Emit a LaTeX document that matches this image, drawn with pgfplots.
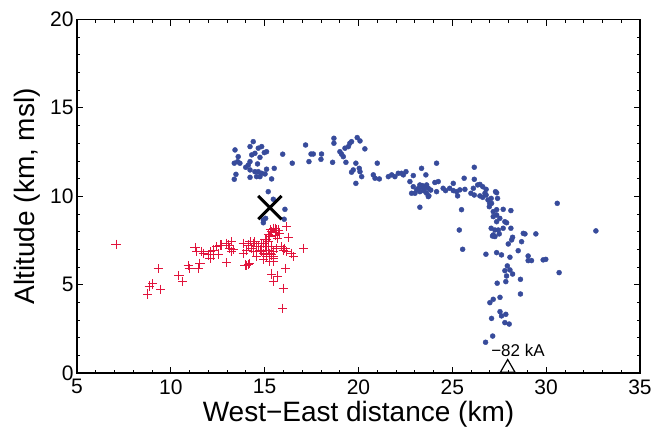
\documentclass[border=0pt]{standalone}
\usepackage{pgfplots}
\pgfplotsset{compat=1.18}
\usepackage{fontspec}
\setmainfont{Liberation Sans}
\definecolor{dotblue}{RGB}{55,75,155}
\definecolor{plusred}{RGB}{225,20,60}
\begin{document}
\begin{tikzpicture}
\path[use as bounding box] (-77pt,-59pt) rectangle (588pt,373pt);
\begin{axis}[
  scale only axis, width=563pt, height=353.5pt,
  xmin=5, xmax=35, ymin=0, ymax=20,
  xtick={5,10,...,35}, ytick={0,5,...,20},
  minor x tick num=4, minor y tick num=4,
  tick align=inside,
  major tick length=6pt, minor tick length=3pt,
  axis line style={line width=1.1pt},
  every tick/.style={black, line width=0.8pt},
  /pgf/number format/assume math mode=true,
  tick label style={font=\fontsize{21}{24}\selectfont},
  xticklabel style={yshift=-3pt},
  xlabel={West−East distance (km)},
  ylabel={Altitude (km, msl)},
  label style={font=\fontsize{28}{32}\selectfont},
  xlabel style={at={(axis description cs:0.5,-0.1358)}, anchor=base, inner sep=0pt},
  ylabel style={at={(axis description cs:-0.0746,0.5)}, anchor=base, inner sep=0pt},
  clip=false,
]
\addplot[only marks, color=dotblue, mark=*, mark size=2.5pt, mark options={draw=dotblue, fill=dotblue}] coordinates {
(13.42,12.62)(13.59,12.24)(13.38,11.87)(13.56,11.96)(13.68,11.87)(13.47,11.24)(13.38,10.96)
(14.22,12.81)(14.39,13.09)(14.31,12.34)(14.48,12.43)(14.66,12.72)(14.84,12.81)(14.98,12.47)
(15.10,12.52)(14.75,12.20)(14.22,11.96)(14.13,11.77)(14.62,11.83)(13.99,11.64)(14.22,11.49)
(14.48,11.39)(14.66,11.39)(14.84,11.30)(15.02,11.26)(15.10,11.53)(15.51,11.58)(15.37,10.98)
(14.57,11.11)(14.22,11.07)(14.75,11.11)(15.96,12.38)(16.47,11.87)(17.18,12.90)(17.47,12.39)
(17.59,12.39)(18.03,12.39)(18.00,12.09)(17.36,11.96)(15.19,10.26)(15.46,9.83)(16.08,9.26)
(16.04,8.70)(14.93,8.66)(15.05,8.75)(14.93,8.50)
(18.69,13.28)(18.69,13.00)(18.62,11.92)(19.01,12.52)(19.10,12.38)(19.19,12.24)(19.28,12.72)
(19.46,12.81)(19.54,13.00)(19.63,13.09)(19.93,13.32)(20.08,13.13)(20.34,12.68)(19.33,11.92)
(19.86,11.87)(19.72,11.49)(19.63,11.36)(20.04,11.58)(20.08,11.39)(20.17,11.11)(19.86,10.73)
(21.00,11.87)(20.79,11.21)(20.88,11.02)(21.11,10.98)(21.59,11.11)(21.77,11.21)(21.94,11.11)
(22.12,11.30)(22.29,11.30)(22.39,11.21)(22.53,11.39)(22.92,11.17)(23.36,11.58)(23.59,11.21)
(22.74,10.83)(22.92,10.54)(23.10,10.36)(23.27,10.64)(23.27,10.26)(23.45,10.45)(23.63,10.54)
(22.83,10.17)(23.01,10.17)(23.63,10.17)(23.72,9.98)(23.20,10.45)(23.50,10.30)(23.40,10.60)(23.85,10.35)
(24.16,11.87)(26.17,11.64)(25.63,11.02)(26.17,10.96)(24.07,10.78)(24.25,10.83)(25.05,10.73)
(23.63,10.64)(23.72,10.45)(24.16,10.26)(24.51,10.45)(24.64,10.32)(24.86,10.45)(25.05,10.32)
(25.23,10.26)(25.40,10.36)(25.67,10.39)(25.28,10.02)(23.75,10.02)(25.99,10.17)(26.17,10.07)
(26.35,10.64)(26.62,10.54)(26.80,10.39)(26.47,10.02)(26.62,9.94)(26.80,10.07)(26.90,9.79)
(27.07,9.88)(27.30,10.26)(27.41,9.88)(26.99,9.60)(25.49,9.24)(27.18,9.13)(27.36,9.24)
(27.71,9.26)(28.12,9.19)(27.18,8.85)(27.36,8.94)(27.53,8.75)(27.36,8.56)(27.80,8.56)
(27.07,8.19)(27.27,8.09)(27.45,8.09)(27.71,8.19)(27.18,7.81)(28.12,8.19)(28.78,7.90)
(25.37,8.09)(26.12,10.45)(26.47,10.67)(26.74,10.17)(27.36,10.20)(27.09,9.60)(26.97,9.41)
(27.89,8.50)(27.14,7.75)(27.27,7.72)(27.50,7.87)
(32.65,8.04)(28.87,7.87)(29.45,7.87)(28.21,7.68)(28.16,7.53)(28.69,7.43)(27.98,7.30)
(28.51,6.92)(26.79,6.72)(27.36,6.81)(27.62,6.68)(28.07,6.55)(29.04,6.62)(29.04,6.36)
(29.22,6.36)(29.84,6.40)(29.98,6.43)(27.93,6.06)(28.07,5.83)(27.80,5.79)(28.21,5.60)
(27.89,5.49)(30.69,5.68)(28.63,5.30)(27.39,5.08)(27.85,5.17)(28.63,4.47)(27.54,4.28)
(27.18,4.17)(27.00,3.98)(27.54,3.47)(27.85,3.32)(27.62,3.23)(27.09,3.09)(27.80,2.85)
(28.03,2.77)(27.15,2.09)(26.77,1.74)(30.59,9.60)(25.55,7.00)(23.27,9.38)
};
\addplot[only marks, color=plusred, mark=+, mark size=4.6pt, mark options={draw=plusred, line width=0.9pt}] coordinates {
(7.08,7.28)(9.33,5.89)(8.85,4.92)(9.03,5.04)(9.46,4.74)(8.75,4.47)(10.43,5.51)(10.63,5.17)
(10.93,6.06)(10.98,5.92)(11.46,5.89)(11.55,6.21)(11.29,7.09)(11.38,6.87)(11.64,6.87)(11.99,6.68)
(12.09,6.49)(12.26,6.96)(12.44,7.15)(12.62,7.24)(12.53,6.73)(12.97,6.24)(13.06,7.24)(13.24,7.43)
(13.33,7.00)(13.24,6.87)(13.86,6.77)(14.04,6.06)(14.18,6.21)(14.13,7.24)(14.39,7.34)(14.57,7.15)
(14.39,6.87)(14.75,6.96)(14.93,7.34)(15.10,7.53)(15.28,7.72)(15.46,8.19)(15.64,8.09)(15.37,8.00)
(15.81,7.90)(16.17,8.28)(16.25,7.68)(15.10,6.96)(15.28,6.77)(15.46,6.58)(15.10,6.58)(14.93,6.77)
(15.46,6.30)(15.28,6.30)(15.90,7.15)(16.08,7.06)(16.17,6.87)(16.43,6.77)(16.52,6.58)(17.09,7.06)
(16.13,5.92)(15.37,5.60)(15.67,5.49)(15.46,5.17)(15.99,4.79)(15.96,3.66)(13.86,7.34)(12.94,7.34)
(15.55,8.19)(15.72,8.09)(15.55,7.81)(15.02,7.53)(15.19,7.43)(14.84,7.34)(14.66,7.15)(15.02,7.15)
(15.37,7.15)(15.19,6.96)(15.46,6.90)(14.84,6.87)(15.10,6.68)(15.37,6.68)(15.64,7.06)(15.99,6.96)
(14.48,7.43)(14.22,7.43)(14.31,7.06)(14.04,6.96)(13.95,6.11)(14.13,6.15)(13.15,7.06)(12.71,7.24)
(12.09,6.87)(12.26,6.68)(11.73,6.77)(15.46,6.49)(14.57,6.58)(14.93,6.40)(15.55,7.95)(15.30,8.10)
(15.70,7.60)(15.20,7.85)
};
\addplot[only marks, color=black, mark=x, mark size=16.5pt, mark options={draw=black, line width=3pt}] coordinates {(15.28,9.36)};
\addplot[only marks, color=black, mark=triangle, mark size=8.5pt, mark options={draw=black, line width=1.2pt}] coordinates {(27.95,0.28)};
\node[anchor=base, inner sep=0pt, font=\fontsize{17}{20}\selectfont] at (axis cs:28.5,0.96) {−82 kA};
\end{axis}
\end{tikzpicture}
\end{document}
